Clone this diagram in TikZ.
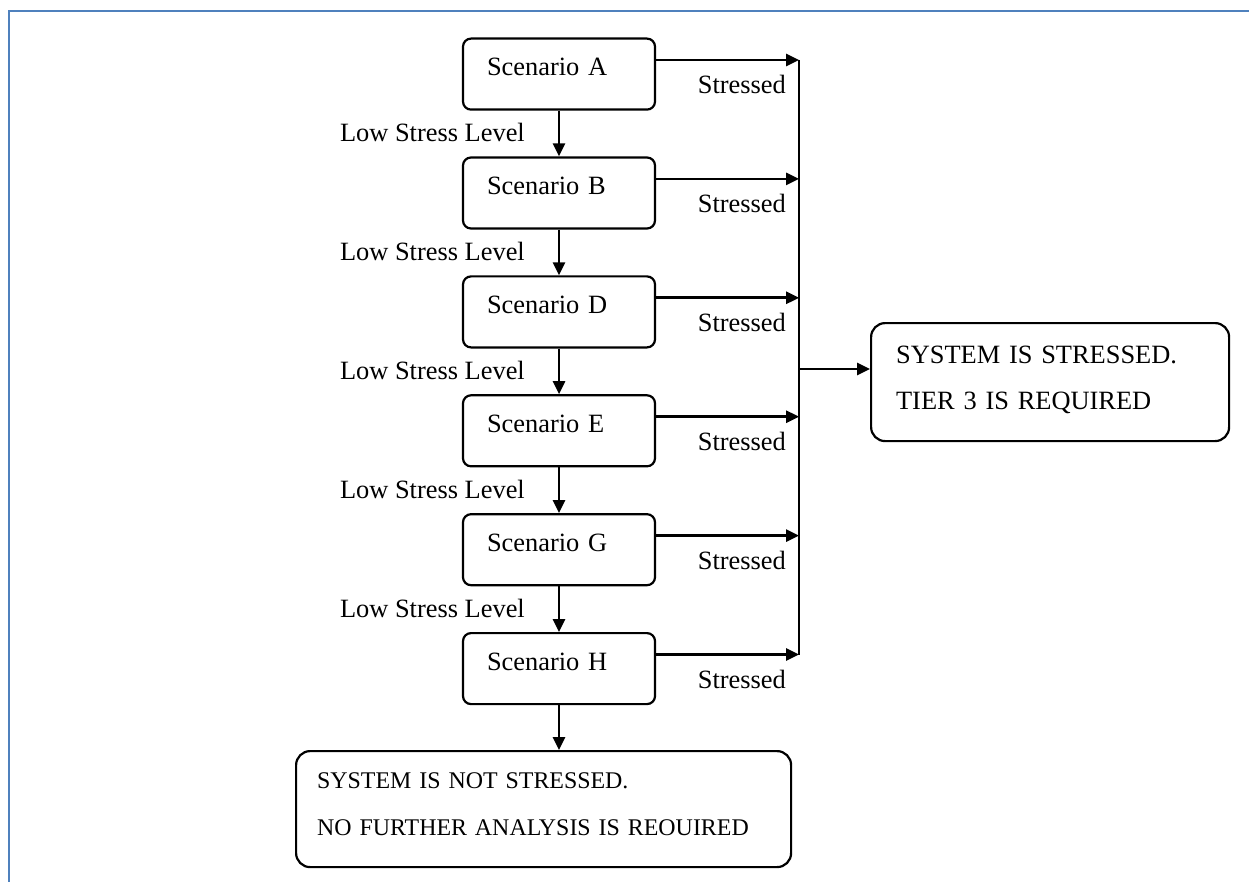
\documentclass[tikz,border=0pt]{standalone}
\usepackage{fontspec}
\setmainfont{Liberation Serif}
\usetikzlibrary{arrows.meta,calc}
\definecolor{frameblue}{RGB}{79,129,189}
\begin{document}
\begin{tikzpicture}[x=1pt,y=-1pt,
  every node/.style={font=\fontsize{26.4}{46}\selectfont},
  scen/.style={draw, line width=2.2pt, rounded corners=8pt, inner xsep=24pt, inner ysep=0pt,
    text width=144pt, align=left, text height=37pt, text depth=34pt, anchor=north},
  bigbox/.style={draw, line width=2.2pt, rounded corners=14pt, inner ysep=0pt, align=left, anchor=north west},
  arr/.style={line width=2.6pt, -{Triangle[length=13pt,width=12pt]}},
  plain/.style={line width=2.4pt},
  lab/.style={anchor=base east, inner sep=0pt},
 ]
\useasboundingbox (0,0) rectangle (1249,882);
\draw[frameblue, line width=2.5pt] (1249,11) -- (9,11) -- (9,882);

% scenario boxes
\node[scen] (A) at (559,37.5) {Scenario A};
\node[scen] (B) at (559,156.4) {Scenario B};
\node[scen] (D) at (559,275.3) {Scenario D};
\node[scen] (E) at (559,394.2) {Scenario E};
\node[scen] (G) at (559,513.1) {Scenario G};
\node[scen] (H) at (559,632) {Scenario H};

% result boxes
\node[bigbox, inner xsep=25pt, text width=308pt, text height=40pt, text depth=78pt] (S) at (870,322)
  {SYSTEM IS STRESSED.\\TIER 3 IS REQUIRED};
\node[bigbox, inner xsep=21pt, text width=453pt, text height=37pt, text depth=79pt,
  font=\fontsize{23.9}{47}\selectfont] (N) at (295,750)
  {SYSTEM IS NOT STRESSED.\\NO FURTHER ANALYSIS IS REOUIRED};

% downward chain
\foreach \u/\v in {A/B,B/D,D/E,E/G,G/H}{
  \draw[arr] (\u.south) -- (\v.north);
  \node[lab] (L\u\v) at ($(\v.north)+(-34,-14.5)$) {Low Stress Level};
}
\draw[arr] (H.south) -- (H.south |- N.north);

% stressed branches
\foreach \n in {A,B,D,E,G,H}{
  \coordinate (p\n) at ($(\n.north east)+(0,22.5)$);
  \coordinate (b\n) at ($(p\n)+(143,0)$);
  \draw[arr] (p\n) -- (b\n);
  \node[lab] (s\n) at ($(b\n)+(-13,34)$) {Stressed};
}
\draw[plain] (bA) -- (bH);
\coordinate (pS) at ($(S.north west)+(0,47)$);
\draw[arr] (bA |- pS) -- (pS);
\end{tikzpicture}
\end{document}
